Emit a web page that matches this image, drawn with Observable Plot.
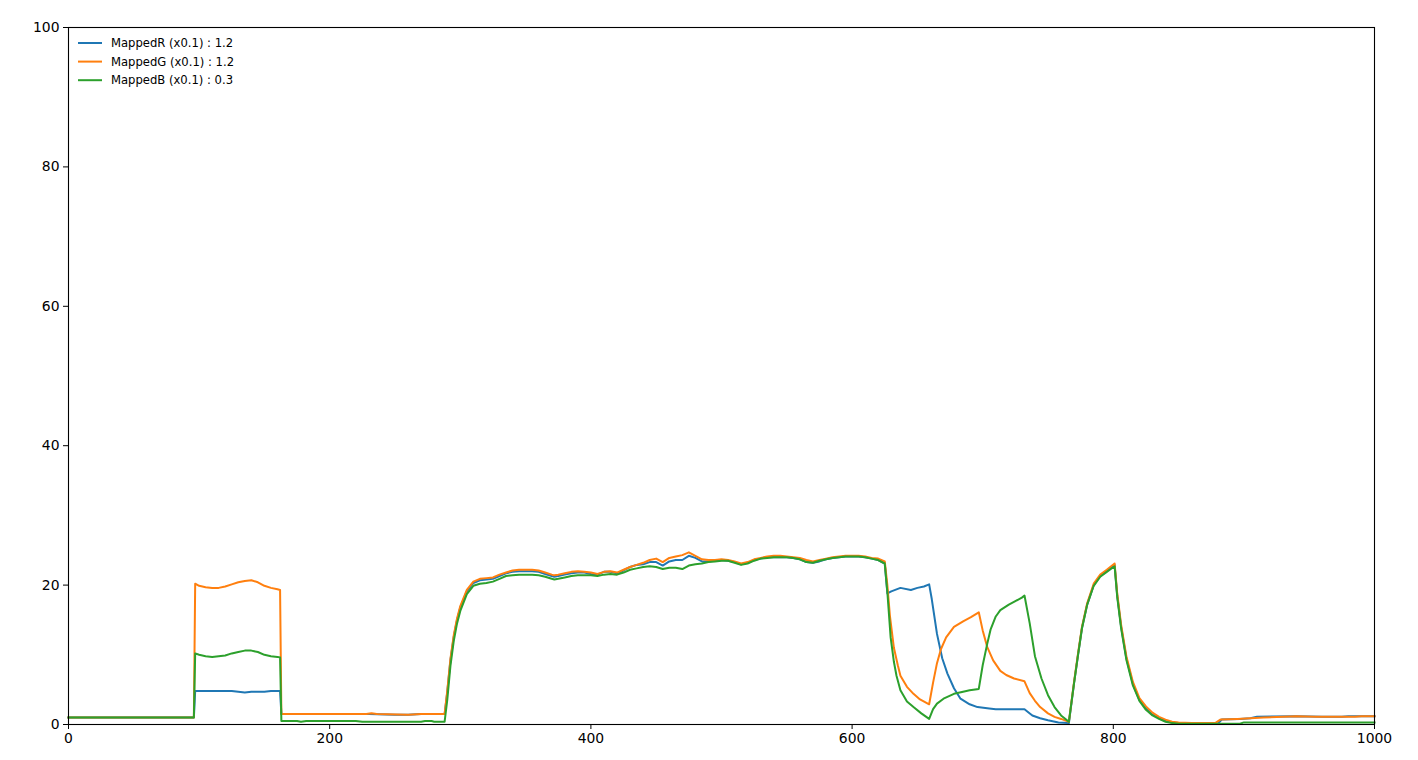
<!DOCTYPE html>
<html>
<head>
<meta charset="utf-8">
<script src="https://cdn.jsdelivr.net/npm/d3@7"></script>
<script src="https://cdn.jsdelivr.net/npm/@observablehq/plot@0.6"></script>
<style>
  html, body { margin: 0; padding: 0; background: #fff; }
  #chart svg { display: block; }
</style>
</head>
<body>
<div id="chart"></div>
<script>
const xTicks = [0, 200, 400, 600, 800, 1000];
const yTicks = [0, 20, 40, 60, 80, 100];
const seriesNames = ["MappedR (x0.1) : 1.2", "MappedG (x0.1) : 1.2", "MappedB (x0.1) : 0.3"];
const seriesColors = ["#1f77b4", "#ff7f0e", "#2ca02c"];

const mappedR = [[0,1.0],[96,1.0],[97,4.8],[125,4.8],[130,4.7],[135,4.6],[140,4.7],[150,4.7],[155,4.8],[162,4.8],[163,1.5],[200,1.5],[230,1.5],[250,1.4],[260,1.4],[270,1.5],[288,1.5],
[290,4.6],[292.5,9.3],[295,12.6],[297.5,15.0],[300,16.8],[305,19.1],[310,20.3],[315,20.7],[320,20.8],[325,20.9],[330,21.3],[335,21.7],[340,21.9],[345,22.0],[350,22.0],[355,22.0],[360,21.9],[365,21.6],[370,21.3],[372,21.2],[375,21.3],[380,21.5],[385,21.7],[390,21.8],[395,21.8],[400,21.6],[405,21.5],[410,21.9],[415,21.9],[420,21.7],[425,22.1],[430,22.6],[435,22.9],[440,23.0],[445,23.3],[450,23.3],[455,22.8],[460,23.4],[465,23.6],[470,23.6],[475,24.2],[480,23.9],[485,23.4],[490,23.4],[495,23.5],[500,23.6],[505,23.5],[510,23.3],[515,23.0],[520,23.2],[525,23.6],[530,23.8],[535,24.0],[540,24.0],[545,24.0],[550,24.0],[555,23.9],[560,23.7],[565,23.3],[570,23.2],[575,23.4],[580,23.7],[585,23.9],[590,24.0],[595,24.1],[600,24.1],[605,24.1],[610,24.0],[615,23.8],[620,23.6],[625,23.1],
[627,18.8],[630,19.1],[637,19.6],[645,19.3],[650,19.6],[655,19.8],[659,20.1],[661,18],[665,13],[669,9.5],[673,7.3],[678,5.2],[683,3.7],[690,2.9],[696,2.5],[705,2.3],[710,2.2],[732,2.2],[738,1.3],[744,0.9],[750,0.6],[758,0.3],[766,0.2],
[770,6],[773,10],[776,13.8],[780,17.2],[785,20.0],[790,21.3],[795,22.0],[801,22.9],[803,18.5],[806,14],[810,9.5],[815,5.8],[820,3.5],[825,2.3],[830,1.4],[835,0.9],[840,0.5],[845,0.3],[850,0.2],[860,0.1],[880,0.1],[883,0.7],[897,0.8],[905,0.9],[910,1.1],[940,1.2],[960,1.1],[975,1.1],[980,1.2],[1000,1.2]];

const mappedG = [[0,1.0],[96,1.0],[97,20.2],[100,19.9],[105,19.7],[110,19.6],[115,19.6],[120,19.8],[125,20.1],[130,20.4],[135,20.6],[140,20.7],[145,20.4],[150,19.9],[155,19.6],[160,19.4],[162,19.3],[163,1.5],[200,1.5],[228,1.5],[232,1.6],[236,1.5],[260,1.4],[270,1.5],[288,1.5],
[290,4.8],[292.5,9.5],[295,12.8],[297.5,15.2],[300,17.0],[305,19.3],[310,20.5],[315,20.9],[320,21.0],[325,21.1],[330,21.5],[335,21.8],[340,22.1],[345,22.2],[350,22.2],[355,22.2],[360,22.1],[365,21.8],[370,21.5],[372,21.4],[375,21.5],[380,21.7],[385,21.9],[390,22.0],[395,21.9],[400,21.8],[405,21.6],[410,21.9],[415,22.0],[420,21.8],[425,22.2],[430,22.6],[435,22.9],[440,23.2],[445,23.6],[450,23.8],[455,23.3],[460,23.9],[465,24.1],[470,24.3],[475,24.7],[480,24.2],[485,23.7],[490,23.6],[495,23.6],[500,23.7],[505,23.6],[510,23.4],[515,23.1],[520,23.3],[525,23.7],[530,23.9],[535,24.1],[540,24.2],[545,24.2],[550,24.1],[555,24.0],[560,23.9],[565,23.6],[570,23.4],[575,23.6],[580,23.8],[585,24.0],[590,24.1],[595,24.2],[600,24.2],[605,24.2],[610,24.1],[615,23.9],[620,23.8],[625,23.4],
[627,20],[629,15.5],[632,11],[635,8.5],[637,7],[642,5.4],[647,4.4],[652,3.6],[659,2.9],[662,6],[665,8.8],[668,10.8],[672,12.5],[678,14.0],[685,14.8],[691,15.4],[697,16.1],[700,13.5],[703.5,11.1],[708,9.2],[713.5,7.7],[718,7.1],[724,6.6],[732,6.2],[736,4.5],[740,3.4],[744,2.5],[750,1.6],[755,1.1],[760,0.8],[766,0.4],
[770,6.2],[773,10.2],[776,14.0],[780,17.4],[785,20.2],[790,21.5],[795,22.2],[801,23.1],[803,18.8],[806,14.3],[810,9.8],[815,6.1],[820,3.8],[825,2.6],[830,1.7],[835,1.1],[840,0.7],[845,0.4],[850,0.3],[860,0.2],[878,0.2],[882,0.7],[895,0.8],[905,0.9],[915,1.0],[930,1.1],[940,1.2],[955,1.1],[985,1.1],[990,1.2],[1000,1.2]];

const mappedB = [[0,1.0],[96,1.0],[97,10.2],[100,10.0],[105,9.8],[110,9.7],[115,9.8],[120,9.9],[125,10.2],[130,10.4],[135,10.6],[140,10.6],[145,10.4],[150,10.0],[155,9.8],[160,9.7],[162,9.6],[163,0.5],[175,0.5],[178,0.4],[182,0.5],[220,0.5],[225,0.4],[270,0.4],[273,0.5],[278,0.5],[280,0.4],[288,0.4],
[290,3.5],[292.5,8.5],[295,12.0],[297.5,14.5],[300,16.3],[305,18.7],[310,19.9],[315,20.2],[320,20.3],[325,20.5],[330,20.9],[335,21.3],[340,21.4],[345,21.5],[350,21.5],[355,21.5],[360,21.4],[365,21.2],[370,20.9],[372,20.8],[375,20.9],[380,21.1],[385,21.3],[390,21.4],[395,21.4],[400,21.4],[405,21.3],[410,21.5],[415,21.6],[420,21.5],[425,21.8],[430,22.2],[435,22.4],[440,22.6],[445,22.7],[450,22.6],[455,22.3],[460,22.5],[465,22.5],[470,22.3],[475,22.8],[480,23.0],[485,23.1],[490,23.3],[495,23.4],[500,23.5],[505,23.5],[510,23.2],[515,22.9],[520,23.1],[525,23.5],[530,23.8],[535,23.9],[540,24.0],[545,24.0],[550,24.0],[555,23.9],[560,23.7],[565,23.3],[570,23.2],[575,23.5],[580,23.7],[585,23.9],[590,24.0],[595,24.1],[600,24.1],[605,24.1],[610,24.0],[615,23.8],[620,23.6],[625,23.1],
[627,19],[629.5,12.5],[632,9],[634,7],[637,4.9],[642,3.3],[647,2.5],[653,1.6],[659,0.8],[662,2.2],[665,3.0],[670,3.7],[678,4.4],[685,4.7],[690,4.9],[697,5.1],[700,8.5],[703.5,11.6],[706,13.6],[710,15.5],[713.5,16.4],[720,17.2],[725,17.7],[730,18.2],[732,18.5],[736,14.5],[740,9.8],[745,6.6],[750,4.2],[755,2.5],[760,1.3],[766,0.4],
[770,6],[773,10],[776,13.8],[780,17.2],[785,19.9],[790,21.2],[795,21.9],[801,22.7],[803,18.3],[806,13.8],[810,9.3],[815,5.6],[820,3.4],[825,2.1],[830,1.3],[835,0.8],[840,0.4],[845,0.2],[850,0.1],[897,0.1],[900,0.3],[1000,0.3]];

const allSeries = [mappedR, mappedG, mappedB];

const chart = Plot.plot({
  width: 1418,
  height: 760,
  marginLeft: 68,
  marginRight: 44,
  marginTop: 27,
  marginBottom: 36,
  style: { fontFamily: "DejaVu Sans", fontSize: "13.9px", color: "#000", background: "#fff" },
  x: { domain: [0, 1000] },
  y: { domain: [0, 100] },
  marks: [
    ...allSeries.map((s, i) => Plot.line(s, { x: d => d[0], y: d => d[1], stroke: seriesColors[i], strokeWidth: 2, strokeLinejoin: "round", strokeLinecap: "square" })),
    Plot.frame({ stroke: "#000", strokeWidth: 1.1 }),
    Plot.axisX({ ticks: xTicks, tickFormat: d => String(d), tickSize: 5, tickPadding: 4, label: null, stroke: "#000" }),
    Plot.axisY({ ticks: yTicks, tickFormat: d => String(d), tickSize: 5, tickPadding: 4, label: null, stroke: "#000" })
  ]
});

document.getElementById("chart").appendChild(chart);

const svg = d3.select(chart);
const leg = svg.append("g").attr("font-family", "DejaVu Sans").attr("font-size", "11.6px").attr("text-anchor", "start");
seriesNames.forEach((name, i) => {
  const y = 43 + i * 18.6;
  leg.append("line").attr("x1", 78).attr("x2", 102).attr("y1", y).attr("y2", y)
    .attr("stroke", seriesColors[i]).attr("stroke-width", 2);
  leg.append("text").attr("x", 111).attr("y", y).attr("dy", "0.35em").attr("fill", "#000").attr("text-anchor", "start").text(name);
});
</script>
</body>
</html>
